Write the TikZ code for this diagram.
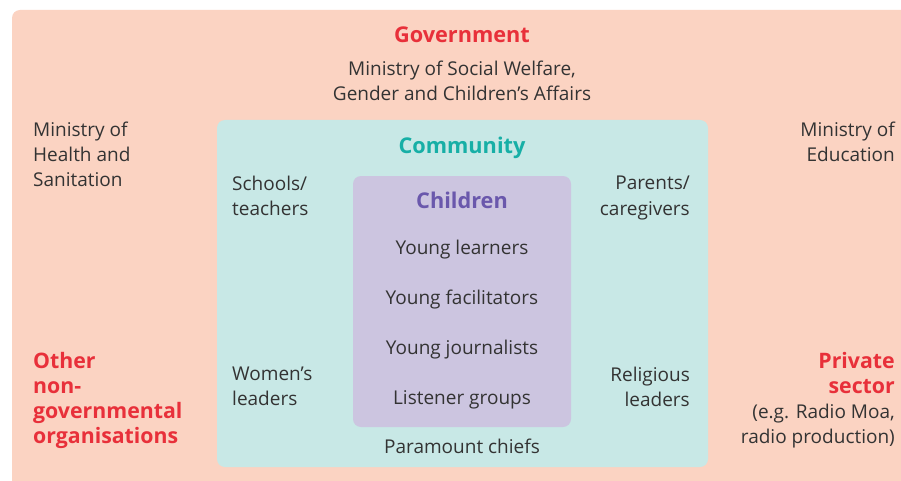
\documentclass[tikz,border=0pt]{standalone}
\usepackage{fontspec}
\setmainfont{Open Sans}
\usepackage{tikz}

\definecolor{govbg}{HTML}{FBD3C2}
\definecolor{commbg}{HTML}{C8E8E6}
\definecolor{childbg}{HTML}{CCC5E0}
\definecolor{govred}{HTML}{E8303A}
\definecolor{commteal}{HTML}{17AFA6}
\definecolor{childpurple}{HTML}{6A58AC}
\definecolor{ink}{HTML}{333333}

\tikzset{
  lbl/.style={text=ink, inner sep=0pt, font=\fontsize{19}{25}\selectfont},
  head/.style={inner sep=0pt, font=\fontsize{21.7}{25}\selectfont\bfseries},
  redlbl/.style={text=govred, inner sep=0pt, font=\fontsize{21.3}{25}\selectfont\bfseries}
}

\begin{document}
\begin{tikzpicture}[x=1pt,y=1pt]
\useasboundingbox (0,0) rectangle (901,480);
\clip (0,0) rectangle (901,480);
\fill[govbg, rounded corners=8pt] (12,-20) rectangle (930,470);
\fill[commbg, rounded corners=8pt] (217,13) rectangle (708,360);
\fill[childbg, rounded corners=8pt] (353,53) rectangle (571,304);

\node[head, text=govred] (gov) at (462,445) {Government};
\node[lbl, align=center] (welfare) at (462,399) {Ministry of Social Welfare,\\Gender and Children's Affairs};
\node[lbl, align=left, anchor=west] (health) at (33,326) {Ministry of\\Health and\\Sanitation};
\node[lbl, align=right, anchor=east] (edu) at (895,338.5) {Ministry of\\Education};
\node[redlbl, align=left, anchor=west] (ngo) at (33,79.5) {Other\\non-\\governmental\\organisations};
\node[lbl, align=right, anchor=east] (private) at (895,79.5) {{\color{govred}\bfseries\fontsize{21.3}{25}\selectfont Private}\\{\color{govred}\bfseries\fontsize{21.3}{25}\selectfont sector}\\(e.g. Radio Moa,\\radio production)};

\node[head, text=commteal] (comm) at (462,332) {Community};
\node[lbl, align=left, anchor=west] (schools) at (232,284.5) {Schools/\\teachers};
\node[lbl, align=right, anchor=east] (parents) at (690,282) {Parents/\\caregivers};
\node[lbl, align=left, anchor=west] (women) at (232,93.5) {Women's\\leaders};
\node[lbl, align=right, anchor=east] (religious) at (690,93.5) {Religious\\leaders};
\node[lbl] (chiefs) at (462,34) {Paramount chiefs};

\node[head, text=childpurple] (children) at (462,280) {Children};
\node[lbl] (learners) at (462,230.5) {Young learners};
\node[lbl] (facil) at (462,180.5) {Young facilitators};
\node[lbl] (journ) at (462,130.5) {Young journalists};
\node[lbl] (listen) at (462,80.5) {Listener groups};
\end{tikzpicture}
\end{document}
